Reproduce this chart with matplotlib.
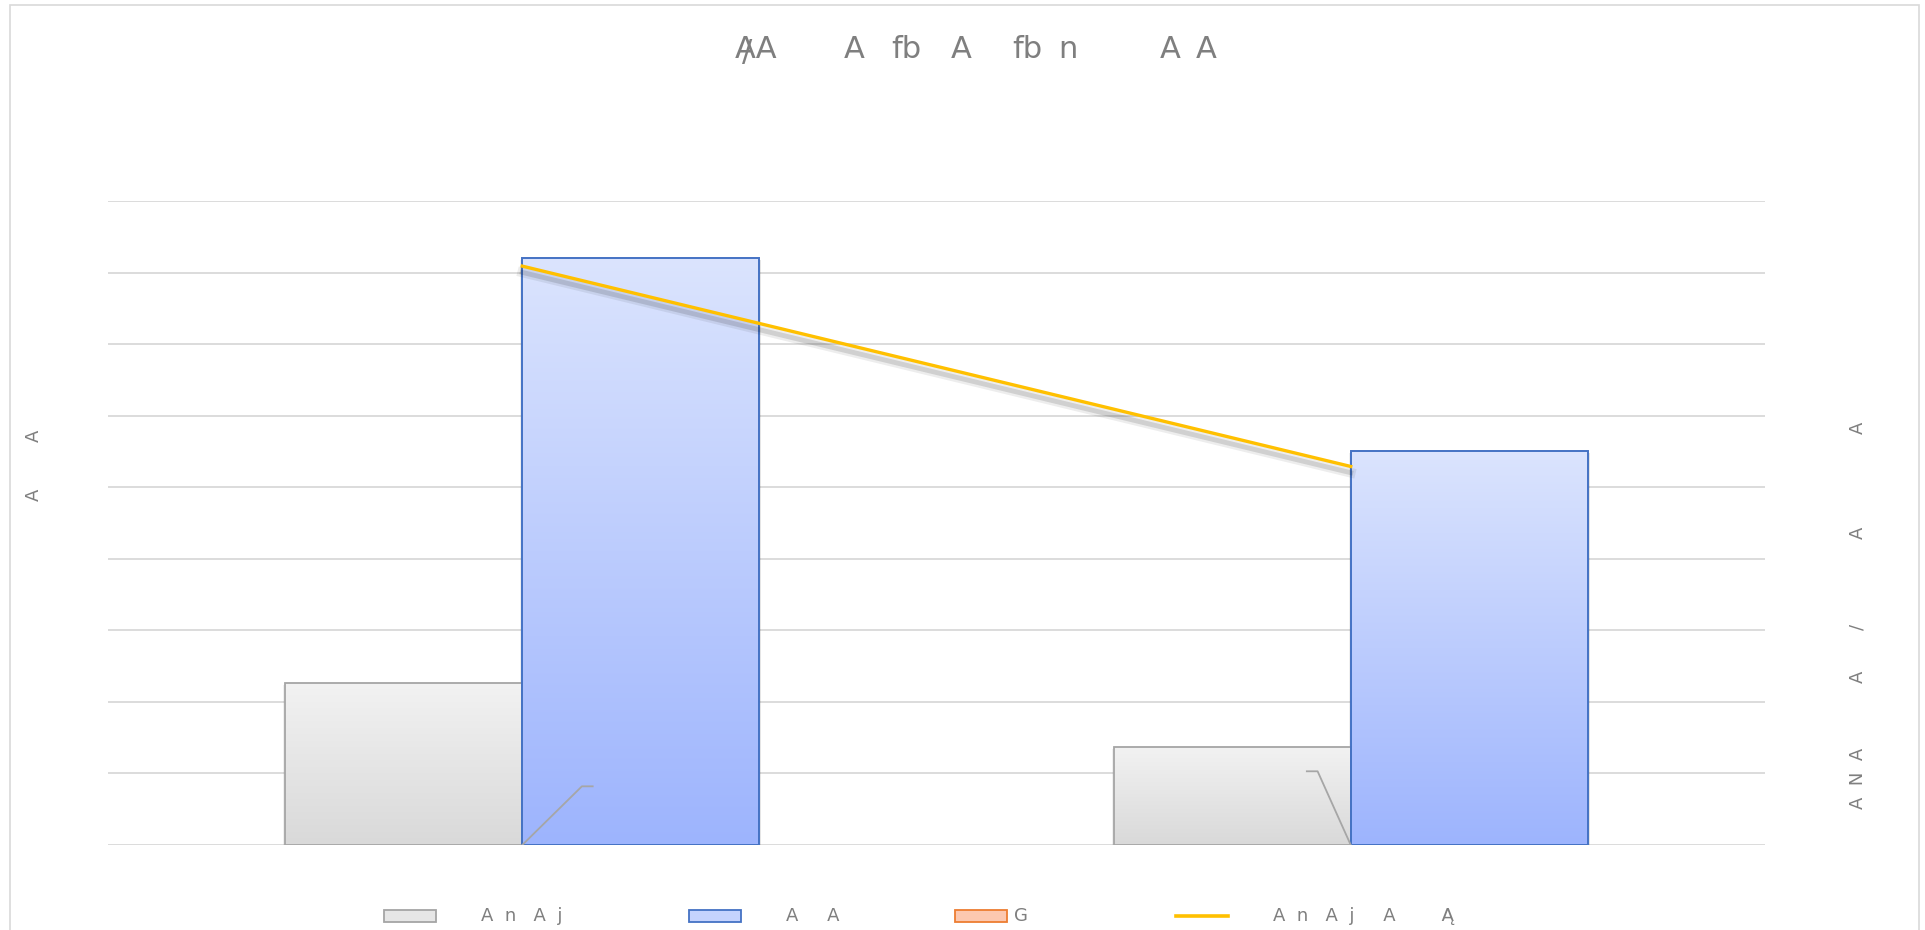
import matplotlib
matplotlib.use("Agg")
import matplotlib.pyplot as plt
import numpy as np
from matplotlib import patheffects as pe
from matplotlib.patches import Rectangle
from matplotlib.colors import LinearSegmentedColormap

categories = ["c1", "c2"]
grey_values = [2.27, 1.37]
blue_values = [8.21, 5.51]
orange_values = [0.0, 0.0]
line_values = [8.09, 5.29]
title_chunks = ["AA", "A", "fb", "A", "fb", "n", "A", "A"]
left_title = ["A", "A"]
right_title = ["A  N  A", "A", "/", "A", "A"]
legend_labels = ["A  n   A  j", "A     A", "G", "A  n   A  j     A        Ą"]

W, H = 1925, 930
fig = plt.figure(figsize=(W / 100, H / 100), dpi=100)
fig.patch.set_facecolor("white")
fig.patches.append(Rectangle((10 / W, -0.05), (1919 - 10) / W, 1.05 - 5 / H,
                             transform=fig.transFigure, fill=False,
                             edgecolor="#d9d9d9", linewidth=1.2))

ax = fig.add_axes([108 / W, 1 - 845 / H, (1765 - 108) / W, (845 - 201) / H])
ax.set_xlim(-0.5, 1.5)
ax.set_ylim(0, 9)
for s in ax.spines.values():
    s.set_visible(False)
ax.set_xticks([])
ax.set_yticks(np.arange(0, 10, 1))
ax.tick_params(axis="y", length=0, labelleft=False)
ax.yaxis.grid(True, color="#d9d9d9", linewidth=1.3)
ax.set_axisbelow(True)

x = np.arange(len(categories))
bw = 0.286
grey_bars = ax.bar(x - bw / 2, grey_values, bw, facecolor="none",
                   edgecolor="#a5a5a5", linewidth=1.3, zorder=3)
blue_bars = ax.bar(x + bw / 2, blue_values, bw, facecolor="none",
                   edgecolor="#4472c4", linewidth=1.4, zorder=3)
ax.bar(x, orange_values, bw, facecolor="#fcc8b0", edgecolor="none", linewidth=0, zorder=3)

cm_grey = LinearSegmentedColormap.from_list("g", ["#d9d9d9", "#f2f2f2"])
cm_blue = LinearSegmentedColormap.from_list("b", ["#9db4fd", "#dbe4fe"])
grad = np.linspace(0, 1, 256).reshape(-1, 1)
bar_shadow = [pe.SimplePatchShadow(offset=(1.5, -1.5), shadow_rgbFace="#000000", alpha=0.10),
              pe.SimplePatchShadow(offset=(-1.5, -1.5), shadow_rgbFace="#000000", alpha=0.06),
              pe.Normal()]
for bars, cm in ((grey_bars, cm_grey), (blue_bars, cm_blue)):
    for b in bars:
        x0, w, h = b.get_x(), b.get_width(), b.get_height()
        sh = Rectangle((x0, 0), w, h, facecolor="white", edgecolor="none", zorder=1.5)
        sh.set_path_effects(bar_shadow)
        ax.add_patch(sh)
        im = ax.imshow(grad, extent=(x0, x0 + w, 0, h), origin="lower",
                       cmap=cm, aspect="auto", zorder=2)
        im.set_clip_path(b)
ax.set_xlim(-0.5, 1.5)
ax.set_ylim(0, 9)

# leader lines of data labels
ax.plot([0, 0.072, 0.085], [0, 0.82, 0.82], color="#a6a6a6", linewidth=1.3, zorder=4)
ax.plot([1, 0.96, 0.947], [0, 1.03, 1.03], color="#a6a6a6", linewidth=1.3, zorder=4)

ax2 = ax.twinx()
ax2.set_ylim(0, 9)
for s in ax2.spines.values():
    s.set_visible(False)
ax2.set_yticks([])
ax2.plot(x, line_values, color="#ffc000", linewidth=2.4, zorder=5,
         path_effects=[pe.SimpleLineShadow(offset=(0, -4.5), shadow_color="#000000", alpha=0.07, linewidth=7),
                       pe.SimpleLineShadow(offset=(0, -4.5), shadow_color="#000000", alpha=0.12, linewidth=3.5),
                       pe.Normal()])

tcol = "#7f7f7f"
title_x = [735, 844, 891, 951, 1012, 1058, 1160, 1196]
for tx, chunk in zip(title_x, title_chunks):
    fig.text(tx / W, 1 - 50 / H, chunk, ha="left", va="center", fontsize=22, color=tcol)
fig.text(747 / W, 1 - 53 / H, "/", ha="center", va="center", fontsize=22, color=tcol)

for ty, ch in zip([436, 495], left_title):
    fig.text(34 / W, 1 - ty / H, ch, rotation=90, ha="center", va="center",
             fontsize=13, color=tcol)
for ty, ch in zip([778, 677, 627, 533, 428], right_title):
    fig.text(1858 / W, 1 - ty / H, ch, rotation=90, ha="center", va="center",
             fontsize=13, color=tcol)

# legend
ly = 1 - 916 / H
lh = 12 / H
items = [
    (384, 436, "patch", "#e6e6e6", "#a5a5a5", 481, legend_labels[0]),
    (689, 741, "patch", "#c5d3fd", "#4472c4", 786, legend_labels[1]),
    (955, 1007, "patch", "#fcc8b0", "#ed7d31", 1014, legend_labels[2]),
    (1176, 1228, "line", "#ffc000", None, 1273, legend_labels[3]),
]
for x0, x1, kind, fc, ec, tx, lab in items:
    if kind == "patch":
        fig.patches.append(Rectangle((x0 / W, ly - lh / 2), (x1 - x0) / W, lh,
                                     transform=fig.transFigure, facecolor=fc,
                                     edgecolor=ec, linewidth=1.3))
    else:
        fig.lines.append(plt.Line2D([x0 / W, x1 / W], [ly, ly], transform=fig.transFigure,
                                    color=fc, linewidth=2.6))
    fig.text(tx / W, ly, lab, ha="left", va="center", fontsize=13, color=tcol)

fig.savefig("out.png", dpi=100)
